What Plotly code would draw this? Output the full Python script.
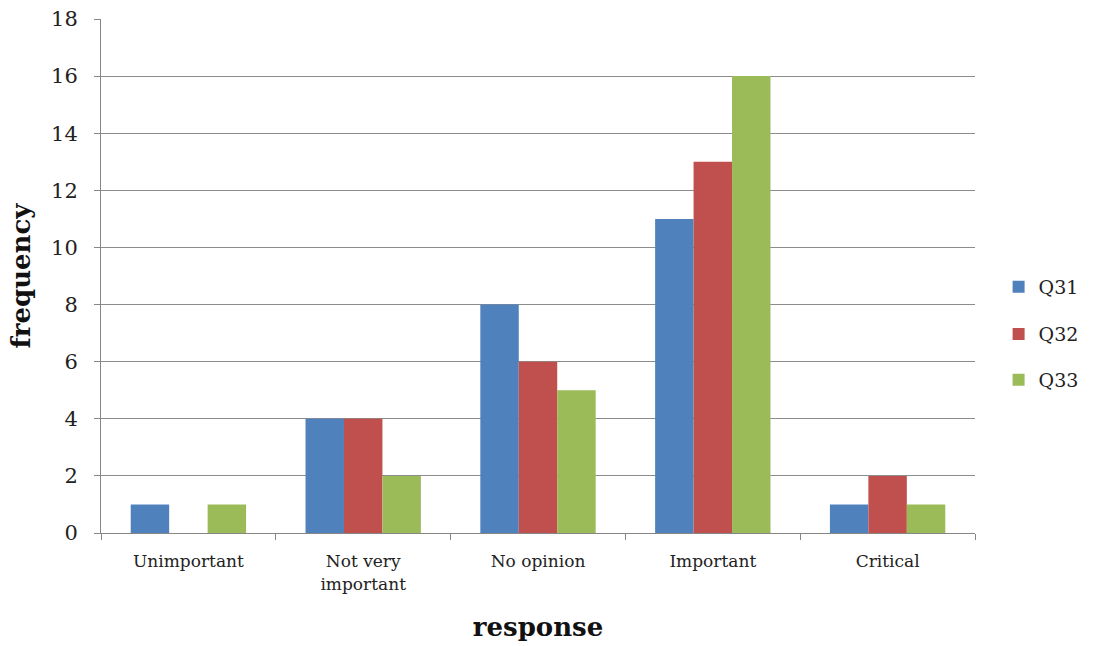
import plotly.graph_objects as go

# Survey responses by category, one series per question
categories = ["Unimportant", "Not very<br>important", "No opinion", "Important", "Critical"]
q31 = [1, 4, 8, 11, 1]
q32 = [0, 4, 6, 13, 2]
q33 = [1, 2, 5, 16, 1]
series_names = ["Q31", "Q32", "Q33"]
y_ticks = [0, 2, 4, 6, 8, 10, 12, 14, 16, 18]

colors = ["#4F81BD", "#C0504D", "#9BBB59"]
serif = "DejaVu Serif, Cambria, serif"

fig = go.Figure()
legend_ids = ["legend", "legend2", "legend3"]
for name, vals, col, lg in zip(series_names, [q31, q32, q33], colors, legend_ids):
    fig.add_trace(go.Bar(x=categories, y=vals, name=name, marker_color=col,
                         marker_line_width=0, legend=lg, showlegend=True))

legend_style = dict(font=dict(family=serif, size=19, color="#222"),
                    bgcolor="rgba(0,0,0,0)", xanchor="left", yanchor="middle",
                    itemwidth=30, visible=True)

fig.update_layout(
    width=1096, height=646,
    showlegend=True,
    margin=dict(l=101, r=121, t=19, b=113, autoexpand=False),
    paper_bgcolor="white", plot_bgcolor="white",
    barmode="group", bargap=0.34, bargroupgap=0,
    font=dict(family=serif, color="#222"),
    legend=dict(x=1.027, y=0.479, **legend_style),
    legend2=dict(x=1.027, y=0.387, **legend_style),
    legend3=dict(x=1.027, y=0.298, **legend_style),
    xaxis=dict(
        tickson="boundaries", ticks="outside", ticklen=6, tickcolor="#868686",
        showline=True, linecolor="#868686", linewidth=1,
        tickfont=dict(family=serif, size=17, color="#222"),
        ticklabelstandoff=13,
        title=dict(text="<b>response</b>", font=dict(family=serif, size=26, color="#111"),
                   standoff=25),
    ),
    yaxis=dict(
        range=[0, 18], tickvals=y_ticks, ticks="outside", ticklen=6, tickcolor="#868686",
        showline=True, linecolor="#868686", linewidth=1,
        showgrid=True, gridcolor="#8C8C8C", gridwidth=1,
        tickfont=dict(family=serif, size=21, color="#222"),
        ticklabelstandoff=12,
        title=dict(text="<b>frequency</b>", font=dict(family=serif, size=26, color="#111"),
                   standoff=12),
        zeroline=False,
    ),
)

fig.write_html("out.html")
